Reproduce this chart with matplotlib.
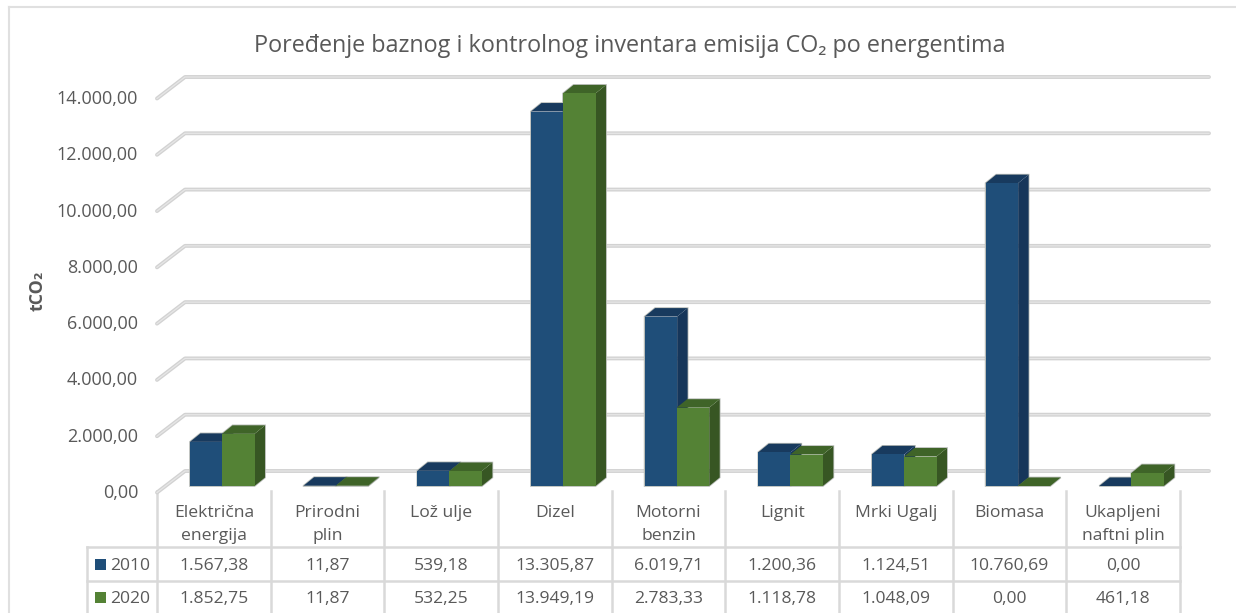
import matplotlib
matplotlib.use('Agg')
import matplotlib.pyplot as plt
from matplotlib.patches import Polygon, Rectangle

plt.rcParams['font.family'] = ['Open Sans', 'DejaVu Sans']

categories = ['Električna\nenergija', 'Prirodni\nplin', 'Lož ulje', 'Dizel', 'Motorni\nbenzin',
              'Lignit', 'Mrki Ugalj', 'Biomasa', 'Ukapljeni\nnaftni plin']
values_2010 = [1567.38, 11.87, 539.18, 13305.87, 6019.71, 1200.36, 1124.51, 10760.69, 0.00]
values_2020 = [1852.75, 11.87, 532.25, 13949.19, 2783.33, 1118.78, 1048.09, 0.00, 461.18]
y_ticks = [0, 2000, 4000, 6000, 8000, 10000, 12000, 14000]
series_names = ['2010', '2020']

title = 'Poređenje baznog i kontrolnog inventara emisija CO₂ po energentima'
text_color = '#595959'
line_color = '#d9d9d9'
front_colors = ['#1f4e79', '#548235']
top_colors = ['#183a5e', '#3f6428']
side_colors = ['#16365a', '#375623']


def fmt(v):
    return f'{v:,.2f}'.replace(',', ' ').replace('.', ',').replace(' ', '.')


W, H = 1236, 613
fig = plt.figure(figsize=(W / 100, H / 100), dpi=100)

# pixel overlay for frame, text and table
px = fig.add_axes([0, 0, 1, 1], zorder=0)
px.set_xlim(0, W)
px.set_ylim(H, 0)
px.axis('off')

# plot axes: x in categories, y in tCO2
left, right, base, top14 = 157, 1180, 486, 92
ax = fig.add_axes([left / W, 1 - base / H, (right - left) / W, (base - top14) / H], zorder=1)
ax.set_xlim(0, len(categories))
ax.set_ylim(0, 14000)
ax.axis('off')
ax.patch.set_alpha(0)

unit_x = (right - left) / len(categories)  # px per category
unit_y = (base - top14) / 14000  # px per tCO2

# gridlines, drawn with the slanted wall part on the left
for t in y_ticks:
    xs = [0, 28 / unit_x, (1209 - left) / unit_x]
    ys = [t - 6.5 / unit_y, t + 15 / unit_y, t + 15 / unit_y]
    ax.plot(xs, ys, color='#d2d2d2', lw=2.8, clip_on=False, solid_capstyle='round', zorder=1)
    ax.plot(xs, ys, color='#e6e6e6', lw=0.9, clip_on=False, zorder=1.1)
    px.text(138, base + 7 - t * unit_y, fmt(t), ha='right', va='center', fontsize=13, color=text_color)

# 3D look bars
dx = 10.5 / unit_x
dy = 8.5 / unit_y
bar_starts = [0.29, 0.572]
bar_w = 0.286
for i in range(len(categories)):
    for s, vals in enumerate([values_2010, values_2020]):
        x0 = i + bar_starts[s]
        x1 = x0 + bar_w
        v = vals[i]
        # soft light outline round the whole bar, kept under all the bar faces
        ax.add_patch(Polygon([(x0, 0), (x1, 0), (x1 + dx, dy), (x1 + dx, v + dy), (x0 + dx, v + dy), (x0, v)],
                             fc='none', ec='#b8bcb8', lw=1.2, clip_on=False, zorder=2.5))
        ax.add_patch(Polygon([(x1, 0), (x1 + dx, dy), (x1 + dx, v + dy), (x1, v)],
                             fc=side_colors[s], ec='none', clip_on=False, zorder=3 + s))
        ax.add_patch(Polygon([(x0, v), (x1, v), (x1 + dx, v + dy), (x0 + dx, v + dy)],
                             fc=top_colors[s], ec='none', clip_on=False, zorder=3 + s))
        ax.add_patch(Rectangle((x0, 0), bar_w, v, fc=front_colors[s], ec='none', clip_on=False, zorder=3 + s))

# outer frame, runs off the right edge
px.plot([9, 9], [H, 7], color='#e0e0e0', lw=1.5)
px.plot([9, W], [7, 7], color='#e0e0e0', lw=1.5)

px.text(630, 46, title, ha='center', va='center', fontsize=16.8, color=text_color)
px.text(37.5, 291, 'tCO₂', rotation=90, ha='center', va='center', fontsize=12.8, color=text_color, fontweight='bold')

# data table
n = len(categories)
px.plot([87, right], [547, 547], color=line_color, lw=1.8)
px.plot([87, right], [581, 581], color=line_color, lw=1.8)
px.plot([87, 87], [547, H], color=line_color, lw=1.8)
for i in range(n + 1):
    x = left + i * unit_x
    px.plot([x, x], [491, H], color=line_color, lw=1.8)

for i, name in enumerate(categories):
    xc = left + (i + 0.5) * unit_x
    px.text(xc, 505, name, ha='center', va='top', fontsize=12.6, color=text_color, linespacing=1.62)
    px.text(xc, 566, fmt(values_2010[i]), ha='center', va='center', fontsize=12.6, color=text_color)
    px.text(xc, 599, fmt(values_2020[i]), ha='center', va='center', fontsize=12.6, color=text_color)

for s, y in enumerate([564, 597]):
    px.add_patch(Rectangle((95, y - 5.5), 11, 11, fc=front_colors[s], ec='none'))
    px.text(110, y + 2, series_names[s], ha='left', va='center', fontsize=12.6, color=text_color)

fig.savefig('out.png', dpi=100)
